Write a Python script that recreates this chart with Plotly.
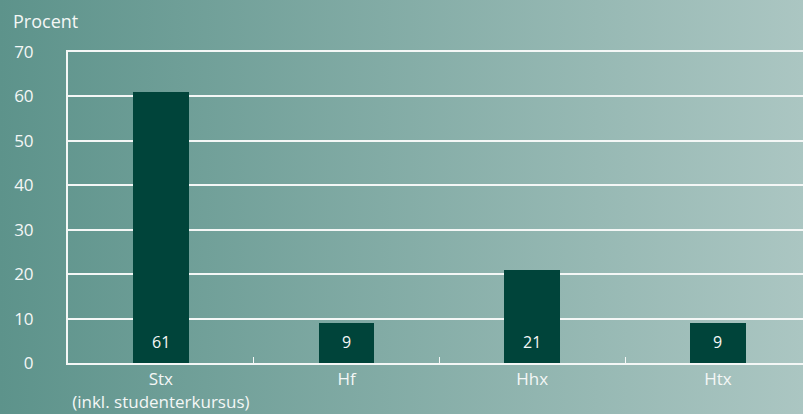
import plotly.graph_objects as go

# Data
categories = ["Stx<br>(inkl. studenterkursus)", "Hf", "Hhx", "Htx"]
values = [61, 9, 21, 9]
y_ticks = [0, 10, 20, 30, 40, 50, 60, 70]

W, H = 803, 414
L, R, T, B = 68, 0, 52, 51
pw, ph = W - L - R, H - T - B

# gradient backdrop as an inline svg
svg = ("<svg xmlns='http://www.w3.org/2000/svg' width='803' height='414' preserveAspectRatio='none'>"
       "<defs><linearGradient id='g' x1='0' y1='0' x2='1' y2='0'>"
       "<stop offset='0' stop-color='%235d938b'/><stop offset='1' stop-color='%23abc6c2'/>"
       "</linearGradient></defs><rect width='803' height='414' fill='url(%23g)'/></svg>")
bg_src = "data:image/svg+xml;charset=utf-8," + svg.replace("<", "%3C").replace(">", "%3E").replace(" ", "%20")

font_main = "Open Sans"
white = "#f4f7f6"

fig = go.Figure(go.Bar(
    x=categories,
    y=values,
    width=0.3,
    marker=dict(color="#00443a", line=dict(width=0)),
    hoverinfo="x+y",
))

# value labels near the foot of each bar
for cat, v in zip(categories, values):
    fig.add_annotation(
        x=cat, y=0, text=str(v), xref="x", yref="y",
        yanchor="bottom", yshift=8, showarrow=False,
        font=dict(family=font_main, size=16, color=white),
    )

fig.add_annotation(
    text="Procent", xref="paper", yref="paper",
    x=-57 / pw, y=1 + 31 / ph, xanchor="left", yanchor="middle",
    showarrow=False, font=dict(size=18, color=white),
)

fig.update_layout(
    width=W, height=H,
    margin=dict(l=L, r=R, t=T, b=B, autoexpand=False),
    paper_bgcolor="rgba(0,0,0,0)",
    plot_bgcolor="rgba(0,0,0,0)",
    font=dict(family=font_main, size=18, color=white),
    showlegend=False,
    bargap=0,
    images=[dict(
        source=bg_src, xref="paper", yref="paper",
        x=-L / pw, y=1 + T / ph, sizex=W / pw, sizey=H / ph,
        xanchor="left", yanchor="top", sizing="stretch", layer="below",
    )],
)

fig.update_xaxes(
    range=[-0.5, -0.5 + pw / 185.7],
    automargin=False, tickangle=0,
    showline=True, linecolor=white, linewidth=2, mirror=True,
    showgrid=False,
    ticks="inside", tickson="boundaries", ticklen=6, tickwidth=1, tickcolor=white,
    tickfont=dict(size=17, color=white),
)
fig.update_yaxes(
    range=[0, 70], tickvals=y_ticks,
    automargin=False,
    showline=True, linecolor=white, linewidth=2,
    showgrid=True, gridcolor=white, gridwidth=2,
    zeroline=False,
    ticks="", ticklabelstandoff=29,
    tickfont=dict(size=17, color=white),
)

# page has a default 8px body margin; drop it so the chart fills the window
fig.write_html("out.html", config={"displayModeBar": False},
               post_script="document.body.style.margin='0';")
